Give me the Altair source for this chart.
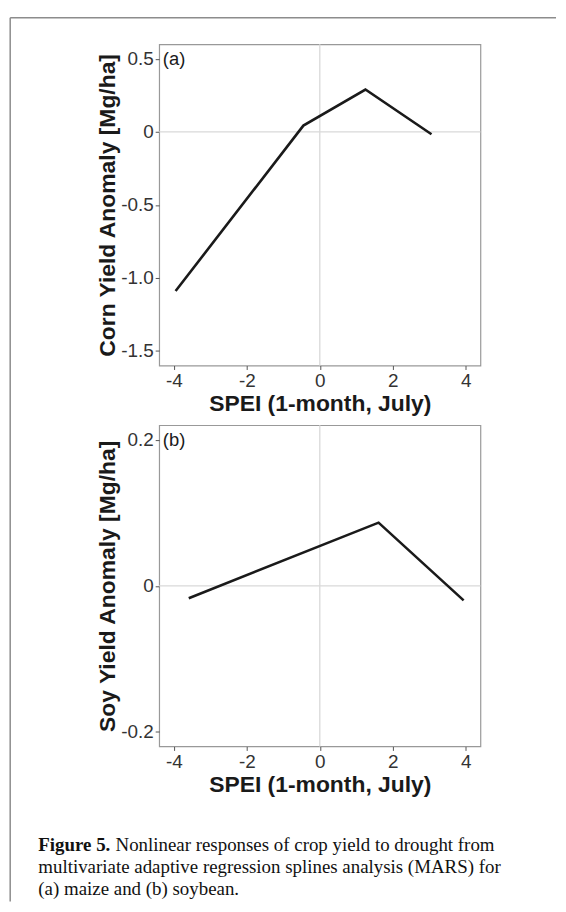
import json
import altair as alt
import pandas as pd

# ---- data ----
spei_a = [-3.95, -0.45, 1.25, 3.06]
yield_a = [-1.09, 0.043, 0.29, -0.016]
spei_b = [-3.59, 1.61, 3.94]
yield_b = [-0.017, 0.0865, -0.020]

x_ticks = [-4, -2, 0, 2, 4]
x_labels = ["-4", "-2", "0", "2", "4"]
ya_ticks = [-1.5, -1.0, -0.5, 0, 0.5]
ya_labels = ["-1.5", "-1.0", "-0.5", "0", "0.5"]
yb_ticks = [-0.2, 0, 0.2]
yb_labels = ["-0.2", "0", "0.2"]
x_domain = [-4.4, 4.4]
ya_domain = [-1.6, 0.6]
yb_domain = [-0.22, 0.22]

x_title = "SPEI (1-month, July)"
ya_title = "Corn Yield Anomaly [Mg/ha]"
yb_title = "Soy Yield Anomaly [Mg/ha]"
tags = ["(a)", "(b)"]
caption_bold = "Figure 5."
caption_lines = [
    "Nonlinear responses of crop yield to drought from",
    "multivariate adaptive regression splines analysis (MARS) for",
    "(a) maize and (b) soybean.",
]

W = 323
H = 323


def label_expr(ticks, labels):
    return f"{json.dumps(labels)}[indexof({json.dumps(ticks)}, datum.value)]"


def panel(xs, ys, ydomain, yticks, ylabels, ytitle, tag, extra=None):
    df = pd.DataFrame({"spei": xs, "yield": ys})
    xenc = alt.X(
        "spei:Q",
        scale=alt.Scale(domain=x_domain, nice=False, zero=False),
        axis=alt.Axis(
            values=x_ticks,
            labelExpr=label_expr(x_ticks, x_labels),
            title=x_title,
            grid=False,
            domain=False,
            titlePadding=2,
            labelPadding=2,
        ),
    )
    yenc = alt.Y(
        "yield:Q",
        scale=alt.Scale(domain=ydomain, nice=False, zero=False),
        axis=alt.Axis(
            values=yticks,
            labelExpr=label_expr(yticks, ylabels),
            title=ytitle,
            grid=False,
            domain=False,
            labelPadding=2,
            minExtent=38,
            maxExtent=38,
            titlePadding=2,
        ),
    )
    zero = pd.DataFrame({"z": [0]})
    vgrid = alt.Chart(zero).mark_rule(color="#d9d9d9", strokeWidth=1.3).encode(x=alt.datum(0))
    hgrid = alt.Chart(zero).mark_rule(color="#d9d9d9", strokeWidth=1.3).encode(y=alt.datum(0))
    line = alt.Chart(df).mark_line(color="#1a1a1a", strokeWidth=2.6).encode(x=xenc, y=yenc)
    tag_df = pd.DataFrame({"t": [tag]})
    tag_mark = alt.Chart(tag_df).mark_text(
        align="left", baseline="middle", font="Liberation Sans", fontSize=18.5, color="#1a1a1a"
    ).encode(x=alt.datum(-4.3), y=alt.datum(yticks[-1]), text="t:N")
    layers = [vgrid, hgrid, line, tag_mark]
    if extra:
        layers += extra
    return alt.layer(*layers).properties(width=W, height=H)


# decorative frame of the figure box (panel-a pixel space)
frame_df = pd.DataFrame({"f": [0]})
frame_left = alt.Chart(frame_df).mark_rule(color="#8c8c8c", strokeWidth=1.5).encode(
    x=alt.value(-149.8), y=alt.value(-26.7), y2=alt.value(862)
)
frame_top = alt.Chart(frame_df).mark_rule(color="#8c8c8c", strokeWidth=1.5).encode(
    x=alt.value(-149.8), x2=alt.value(399), y=alt.value(-26.7)
)

# caption (panel-b pixel space)
cap_bold = alt.Chart(pd.DataFrame({"t": [caption_bold]})).mark_text(
    align="left", baseline="middle", font="Liberation Serif", fontSize=19,
    fontWeight="bold", color="#111111"
).encode(x=alt.value(-121.5), y=alt.value(422), text="t:N")
cap_df = pd.DataFrame({
    "t": caption_lines,
    "px": [-43.9, -121.5, -121.5],
    "py": [422, 444, 466],
})
cap_rest = []
for i, row in cap_df.iterrows():
    cap_rest.append(
        alt.Chart(pd.DataFrame({"t": [row["t"]]})).mark_text(
            align="left", baseline="middle", font="Liberation Serif", fontSize=19, color="#111111"
        ).encode(x=alt.value(float(row["px"])), y=alt.value(float(row["py"])), text="t:N")
    )

pa = panel(spei_a, yield_a, ya_domain, ya_ticks, ya_labels, ya_title, tags[0],
           extra=[frame_left, frame_top])
pb = panel(spei_b, yield_b, yb_domain, yb_ticks, yb_labels, yb_title, tags[1],
           extra=[cap_bold] + cap_rest)

chart = (
    alt.vconcat(pa, pb, spacing=60, bounds="flush")
    .properties(padding={"left": 0, "top": 5, "right": 0, "bottom": 0}, background="white")
    .configure_view(stroke="#999999", strokeWidth=1.2)
    .configure_axis(
        labelFont="Liberation Sans",
        labelFontSize=19,
        labelColor="#333333",
        tickColor="#555555",
        tickSize=4,
        tickWidth=1,
        titleFont="Liberation Sans",
        titleFontSize=23,
        titleFontWeight="bold",
        titleColor="#1a1a1a",
    )
)

chart.save("out.html", embed_options={"renderer": "svg", "actions": False})
